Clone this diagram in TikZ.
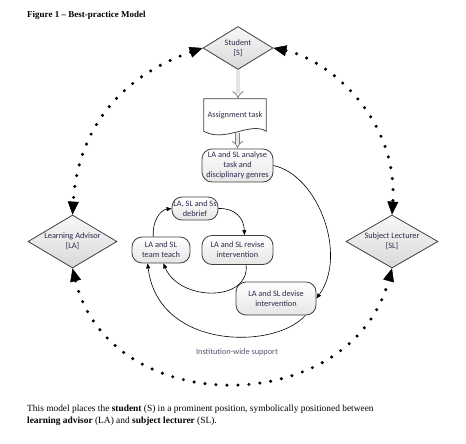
\documentclass[tikz,border=0pt]{standalone}
\usepackage{fontspec}
\setmainfont{Liberation Serif}
\newfontfamily\carlito{Carlito}
\usetikzlibrary{shapes.geometric,arrows.meta,calc}
\tikzset {>={Triangle[length=5pt,width=4pt]}}
\definecolor{ink}{HTML}{2B2D4A}
\definecolor{edge}{HTML}{404040}
\tikzset{
  lbl/.style={font=\carlito\fontsize{8.3}{9.8}\selectfont,text=ink,align=center},
  diam/.style={lbl,diamond,draw=edge,line width=.8pt,top color=gray!6,bottom color=gray!30,
    inner sep=0pt,aspect=1.7,minimum width=89pt,minimum height=53pt},
  rbox/.style={lbl,draw=edge,line width=.8pt,rounded corners=10pt,top color=white,
    bottom color=gray!20,inner sep=1pt},
  cyc/.style={->,line width=.6pt},
  flow/.style={draw=gray,double=olive!10!black!12,line width=.8pt,double distance=3.2pt,-{Implies}},
  bigtip/.tip={Triangle[length=13pt,width=11pt,line width=.5pt]},
  dotarc/.style={line width=3.4pt,line cap=round,dash pattern=on 0pt off 11pt,{bigtip}-{bigtip}}
}
\begin{document}
\begin{tikzpicture}[x=1pt,y=1pt]
\useasboundingbox (0,0) rectangle (466,-444);
\node[anchor=base west,inner sep=0pt,font=\bfseries\fontsize{9}{11}\selectfont] (title) at (27,-18) {Figure 1 -- Best-practice Model};
% three parties
\node[diam,minimum width=70pt,minimum height=43pt] (S) at (238,-48) {Student\\{[S]}};
\node[diam] (LA) at (72.5,-241.5) {Learning Advisor\\{[LA]}};
\node[diam,minimum width=92pt] (SL) at (392,-241.5) {Subject Lecturer\\{[SL]}};
\draw[dotarc] (S.west) .. controls (125,-75) and (78,-125) .. (LA.north);
\draw[dotarc] (S.east) .. controls (330,-60) and (398,-120) .. (SL.north);
\draw[dotarc] (LA.south) .. controls (110,-420) and (350,-420) .. (SL.south);
% task document
\node[lbl,minimum width=62pt,minimum height=32pt] (task) at (235,-115) {Assignment task};
\draw[edge,line width=.8pt] (task.north west) -- (task.north east) -- (task.south east)
  .. controls ($(task.south east)+(-16,10)$) and ($(task.south west)+(21,-12)$) .. (task.south west) -- cycle;
\node[rbox,minimum width=71pt,minimum height=33pt] (ana) at (237.5,-165.5) {LA and SL analyse\\task and\\disciplinary genres};
\draw[flow] (S.south) -- (S.south |- task.north);
\draw[flow] ($(ana.north |- task.south)+(0,-1.5)$) -- (ana.north);
% cycle
\node[rbox,minimum width=46pt,minimum height=23pt] (deb) at (195,-208.5) {LA, SL and Ss\\debrief};
\node[rbox,minimum width=58pt,minimum height=26pt] (team) at (161,-250) {LA and SL\\team teach};
\node[rbox,minimum width=71pt,minimum height=29pt] (rev) at (237.5,-250) {LA and SL revise\\intervention};
\node[rbox,minimum width=80pt,minimum height=33pt] (dev) at (276,-298.5) {LA and SL devise\\intervention};
\draw[cyc] (ana.east) .. controls (318,-175) and (348,-255) .. (dev.east);
\draw[cyc] (dev.-30) .. controls (275,-350) and (158,-350) .. (team.-135);
\draw[cyc] (rev.-60) .. controls (250,-302) and (180,-302) .. (team.-80);
\draw[cyc] (team.120) .. controls (152,-222) and (160,-210) .. (deb.west);
\draw[cyc] (deb.east) .. controls (235,-208) and (244,-218) .. (rev.65);
\node[lbl,text=ink!80] (inst) at (237,-352) {Institution-wide support};
\node[anchor=north west,align=left,inner sep=0pt,font=\fontsize{9.4}{12}\selectfont] (cap) at (27,-405)
  {This model places the \textbf{student} (S) in a prominent position, symbolically positioned between\\
   \textbf{learning advisor} (LA) and \textbf{subject lecturer} (SL).};
\end{tikzpicture}
\end{document}
